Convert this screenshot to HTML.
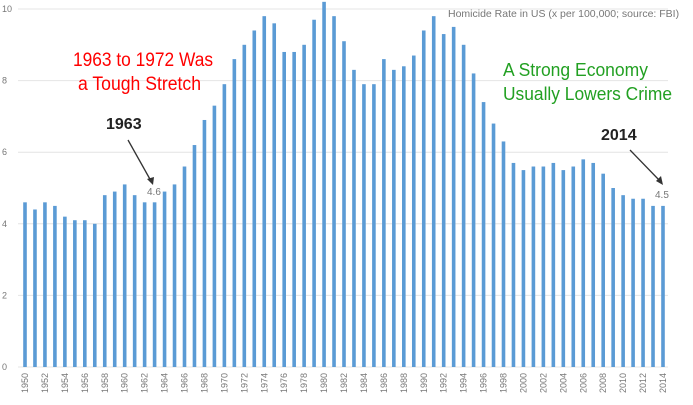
<!DOCTYPE html>
<html><head><meta charset="utf-8"><style>
body{margin:0;background:#fff;}
svg{display:block;font-family:"Liberation Sans",Arial,sans-serif;}
</style></head><body>
<svg id="chart" width="693" height="405" viewBox="0 0 693 405" xmlns="http://www.w3.org/2000/svg">
<g id="grid"></g>
<g id="yticks"></g>
<g id="bars"></g>
<g id="xticks"></g>
<text x="448" y="17" font-size="10.5" fill="#777">Homicide Rate in US (x per 100,000; source: FBI)</text>
<text x="73" y="66" font-size="19" fill="#f00" textLength="140" lengthAdjust="spacingAndGlyphs">1963 to 1972 Was</text>
<text x="78" y="90" font-size="19" fill="#f00" textLength="123" lengthAdjust="spacingAndGlyphs">a Tough Stretch</text>
<text x="503" y="76" font-size="18" fill="#22a022" textLength="145" lengthAdjust="spacingAndGlyphs">A Strong Economy</text>
<text x="503" y="100" font-size="18" fill="#22a022" textLength="169" lengthAdjust="spacingAndGlyphs">Usually Lowers Crime</text>
<text x="106" y="129" font-size="16" font-weight="bold" fill="#222">1963</text>
<text x="601" y="140" font-size="16" font-weight="bold" fill="#222">2014</text>
<line x1="128" y1="140" x2="151" y2="181" stroke="#333" stroke-width="1.3"/>
<polygon points="153,185 147,179 154,177" fill="#333"/>
<line x1="630" y1="150" x2="660" y2="181" stroke="#333" stroke-width="1.3"/>
<polygon points="663,185 656,181 661,176" fill="#333"/>
<text x="147" y="195" font-size="10" fill="#777">4.6</text>
<text x="655" y="198" font-size="10" fill="#777">4.5</text>
</svg>
<script>
const years=[];for(let y=1950;y<=2014;y++)years.push(y);
const rates=[4.6,4.4,4.6,4.5,4.2,4.1,4.1,4.0,4.8,4.9,
5.1,4.8,4.6,4.6,4.9,5.1,5.6,6.2,6.9,7.3,
7.9,8.6,9.0,9.4,9.8,9.6,8.8,8.8,9.0,9.7,
10.2,9.8,9.1,8.3,7.9,7.9,8.6,8.3,8.4,8.7,
9.4,9.8,9.3,9.5,9.0,8.2,7.4,6.8,6.3,5.7,
5.5,5.6,5.6,5.7,5.5,5.6,5.8,5.7,5.4,5.0,
4.8,4.7,4.7,4.5,4.5];
const yTicks=[0,2,4,6,8,10];
const NS="http://www.w3.org/2000/svg";
const y0=367,pxPer=35.8,x0=25,step=(663-25)/64;
const yS=v=>y0-v*pxPer, xS=i=>x0+i*step;
const grid=document.getElementById('grid'),yt=document.getElementById('yticks'),bars=document.getElementById('bars'),xt=document.getElementById('xticks');
yTicks.forEach(t=>{
 const l=document.createElementNS(NS,'line');
 
 
 l.setAttribute('x1',18);l.setAttribute('x2',668);l.setAttribute('y1',yS(t));l.setAttribute('y2',yS(t));
 l.setAttribute('stroke','#e4e4e4');l.setAttribute('stroke-width','1');grid.appendChild(l);
 const tx=document.createElementNS(NS,'text');
 
 
 tx.setAttribute('x',2);tx.setAttribute('y',yS(t)+3);tx.setAttribute('font-size','9');tx.setAttribute('fill','#777');
 tx.textContent=t;yt.appendChild(tx);
});
rates.forEach((v,i)=>{
 const r=document.createElementNS(NS,'rect');
 
 
 r.setAttribute('x',xS(i)-1.8);r.setAttribute('width',3.6);r.setAttribute('y',yS(v));r.setAttribute('height',v*pxPer);
 r.setAttribute('fill','#5b9bd5');bars.appendChild(r);
 if(i%2===0){
  const tx=document.createElementNS(NS,'text');
  
  
  tx.setAttribute('font-size','9');tx.setAttribute('fill','#777');tx.setAttribute('text-anchor','end');
  tx.setAttribute('transform','translate('+(xS(i)+3)+',373) rotate(-90)');
  tx.textContent=years[i];xt.appendChild(tx);
 }
});
</script>
</body></html>
